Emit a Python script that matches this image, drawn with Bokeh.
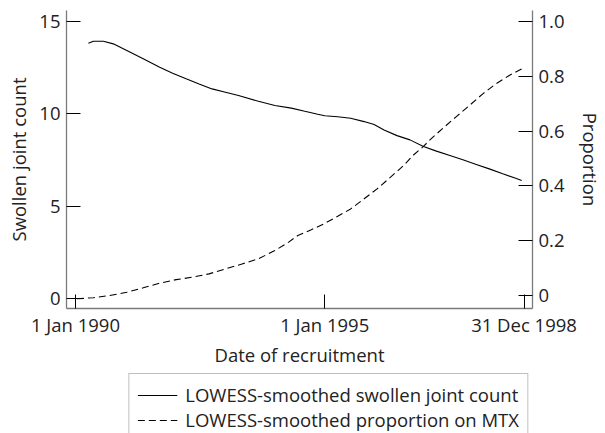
from bokeh.plotting import figure
from bokeh.models import (Range1d, LinearAxis, FixedTicker, Legend, LegendItem)
from bokeh.layouts import column
from bokeh.embed import file_html
from bokeh.resources import INLINE

# ---- data ----
x_ticks = [1990.0, 1995.0, 1998.9973]
x_tick_labels = ["1 Jan 1990", "1 Jan 1995", "31 Dec 1998"]
left_ticks = [0, 5, 10, 15]
right_ticks = [0.0, 0.2, 0.4, 0.6, 0.8, 1.0]
right_tick_labels = ["0", "0.2", "0.4", "0.6", "0.8", "1.0"]
series_labels = ["LOWESS-smoothed swollen joint count",
                 "LOWESS-smoothed proportion on MTX"]

swollen_years = [1990.26, 1990.36, 1990.56, 1990.76, 1991.03, 1991.36, 1991.69, 1991.95,
                 1992.22, 1992.48, 1992.74, 1993.01, 1993.27, 1993.67, 1994.00, 1994.33,
                 1994.60, 1994.86, 1995.00, 1995.26, 1995.52, 1995.79, 1995.99, 1996.19,
                 1996.45, 1996.71, 1996.98, 1997.24, 1997.51, 1997.77, 1998.04, 1998.30,
                 1998.57, 1998.83, 1998.95]
swollen_counts = [13.82, 13.93, 13.93, 13.79, 13.43, 12.98, 12.52, 12.20,
                  11.90, 11.62, 11.35, 11.17, 10.99, 10.68, 10.45, 10.31,
                  10.14, 9.98, 9.90, 9.84, 9.76, 9.58, 9.42, 9.13,
                  8.82, 8.59, 8.23, 7.98, 7.74, 7.51, 7.26, 7.02,
                  6.75, 6.51, 6.39]

mtx_years = [1990.03, 1990.36, 1990.69, 1991.03, 1991.36, 1991.69, 1992.02, 1992.35,
             1992.68, 1993.01, 1993.34, 1993.67, 1994.00, 1994.27, 1994.46, 1994.73,
             1994.99, 1995.26, 1995.52, 1995.79, 1996.05, 1996.32, 1996.58, 1996.77,
             1996.98, 1997.11, 1997.38, 1997.64, 1997.90, 1998.17, 1998.43, 1998.70,
             1998.95]
mtx_props = [-0.012, -0.008, 0.0, 0.012, 0.028, 0.045, 0.058, 0.067,
             0.079, 0.097, 0.115, 0.134, 0.164, 0.194, 0.219, 0.240,
             0.262, 0.289, 0.316, 0.353, 0.389, 0.432, 0.474, 0.511,
             0.544, 0.568, 0.612, 0.653, 0.693, 0.736, 0.772, 0.803,
             0.827]

FONT = "Open Sans"
FS = "18.5px"
AXIS_GRAY = "#7a7a7a"
TXT = "#222222"
SOLID = dict(line_color="black", line_width=1.1)
DASHED = dict(line_color="black", line_width=1.1, line_dash="7 4")
W = 605

# ---------------- main chart ----------------
p = figure(width=W, height=369,
           x_range=Range1d(1989.821, 1999.167),
           y_range=Range1d(-0.5415, 15.596),
           output_backend="svg", toolbar_location=None,
           min_border_left=66, min_border_right=68, min_border_top=10,
           min_border_bottom=61)
p.extra_y_ranges = {"prop": Range1d(-0.0474, 1.0401)}
p.outline_line_color = None
p.xgrid.grid_line_color = None
p.ygrid.grid_line_color = None
p.background_fill_color = "white"
p.border_fill_color = "white"

p.line(swollen_years, swollen_counts, **SOLID)
p.line(mtx_years, mtx_props, y_range_name="prop", **DASHED)


def style_axis(ax):
    ax.axis_line_color = AXIS_GRAY
    ax.axis_line_width = 1.3
    ax.major_tick_line_color = "black"
    ax.major_tick_line_width = 1
    ax.major_tick_in = 14
    ax.major_tick_out = 0
    ax.minor_tick_line_color = None
    ax.major_label_text_font = FONT
    ax.major_label_text_font_size = FS
    ax.major_label_text_color = TXT
    ax.axis_label_text_font = FONT
    ax.axis_label_text_font_size = FS
    ax.axis_label_text_font_style = "normal"
    ax.axis_label_text_color = TXT
    ax.major_label_standoff = 6
    ax.axis_label_standoff = 5


xa = p.xaxis[0]
style_axis(xa)
xa.ticker = FixedTicker(ticks=x_ticks)
xa.major_label_overrides = {t: l for t, l in zip(x_ticks, x_tick_labels)}
xa.axis_label = "Date of recruitment"
xa.major_label_standoff = 3
xa.axis_label_standoff = 2

ya = p.yaxis[0]
style_axis(ya)
ya.ticker = FixedTicker(ticks=left_ticks)
ya.axis_label = "Swollen joint count"

ra = LinearAxis(y_range_name="prop", axis_label="Proportion")
style_axis(ra)
ra.ticker = FixedTicker(ticks=right_ticks)
ra.major_label_overrides = {t: l for t, l in zip(right_ticks, right_tick_labels)}
ra.axis_label_standoff = 10
p.add_layout(ra, "right")

# ---------------- legend strip ----------------
lg = figure(width=W, height=64, x_range=Range1d(0, 1), y_range=Range1d(0, 1),
            x_axis_type=None, y_axis_type=None,
            output_backend="svg", toolbar_location=None,
            min_border_left=0, min_border_right=0, min_border_top=0,
            min_border_bottom=0)
lg.outline_line_color = None
lg.xgrid.grid_line_color = None
lg.ygrid.grid_line_color = None
nan = float("nan")
k1 = lg.line(x=[nan], y=[nan], **SOLID)
k2 = lg.line(x=[nan], y=[nan], **DASHED)

legend = Legend(items=[
    LegendItem(label=series_labels[0], renderers=[k1]),
    LegendItem(label=series_labels[1], renderers=[k2]),
], location="top_right", orientation="vertical")
legend.border_line_color = "#808080"
legend.border_line_width = 1
legend.background_fill_color = "white"
legend.label_text_font = FONT
legend.label_text_font_size = FS
legend.label_text_color = TXT
legend.glyph_width = 40
legend.glyph_height = 18
legend.label_height = 18
legend.spacing = -6
legend.padding = 8
legend.margin = 4
legend.label_standoff = 8
lg.add_layout(legend, "center")

open("out.html", "w").write(file_html(column(p, lg, spacing=0), INLINE))
